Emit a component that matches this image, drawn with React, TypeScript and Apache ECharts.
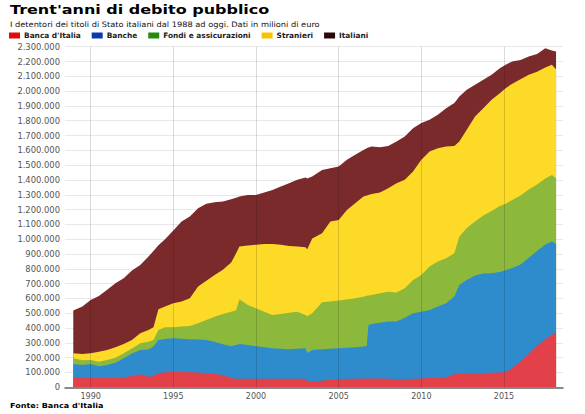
import React, { useEffect, useRef } from "react";
import * as echarts from "echarts";

const years = [1988.95, 1989.5, 1990, 1990.5, 1991, 1991.5, 1992, 1992.5, 1993, 1993.5, 1993.8, 1994.1, 1994.5, 1995, 1995.5, 1996, 1996.5, 1997, 1997.5, 1998, 1998.5, 1998.8, 1999, 1999.5, 2000, 2000.5, 2001, 2001.5, 2002, 2002.5, 2003, 2003.1, 2003.4, 2004, 2004.5, 2005, 2005.5, 2006, 2006.5, 2006.7, 2006.8, 2007, 2007.5, 2008, 2008.5, 2009, 2009.5, 2010, 2010.5, 2011, 2011.5, 2012, 2012.3, 2012.75, 2013.25, 2013.75, 2014.25, 2014.75, 2015.1, 2015.5, 2016, 2016.5, 2017, 2017.5, 2017.9, 2018.15];

// holdings, in thousands of millions of euro (x1000 = millions)
const bancaItalia = [68, 66, 65, 62, 63, 65, 68, 76, 88, 72, 78, 95, 101, 103, 103, 102, 100, 96, 90, 83, 62, 58, 57, 57, 57, 57, 58, 58, 58, 58, 57, 40, 40, 45, 52, 55, 57, 58, 60, 60, 60, 60, 60, 58, 56, 55, 57, 60, 62, 64, 68, 88, 92, 95, 96, 97, 98, 100, 102, 130, 175, 225, 280, 325, 355, 369];
const banche = [90, 85, 93, 80, 88, 100, 128, 152, 164, 183, 197, 225, 226, 228, 225, 222, 222, 224, 218, 207, 216, 227, 236, 229, 221, 213, 205, 202, 199, 202, 206, 192, 212, 212, 208, 208, 210, 212, 216, 219, 361, 368, 376, 386, 388, 415, 443, 451, 460, 481, 499, 525, 599, 630, 659, 671, 672, 678, 688, 675, 655, 650, 640, 640, 629, 601];
const fondi = [38, 31, 27, 31, 34, 35, 34, 34, 45, 53, 45, 67, 78, 74, 82, 90, 110, 135, 169, 205, 233, 235, 301, 270, 256, 241, 226, 235, 247, 251, 226, 248, 248, 318, 320, 323, 326, 331, 336, 339, 199, 196, 199, 202, 196, 199, 225, 248, 293, 304, 305, 292, 327, 350, 365, 392, 420, 447, 450, 460, 465, 460, 450, 445, 450, 442];
const stranieri = [34, 43, 45, 67, 67, 70, 63, 58, 68, 79, 85, 140, 140, 162, 169, 187, 248, 265, 282, 298, 331, 385, 356, 401, 428, 457, 479, 467, 451, 439, 457, 452, 505, 465, 539, 544, 605, 642, 676, 677, 678, 682, 680, 698, 738, 732, 732, 777, 777, 766, 754, 725, 642, 665, 709, 725, 751, 761, 780, 785, 785, 775, 760, 750, 744, 736];
const italiani = [288, 320, 360, 377, 406, 433, 443, 468, 461, 496, 515, 433, 455, 491, 540, 552, 529, 519, 491, 461, 428, 375, 338, 342, 337, 347, 365, 394, 423, 451, 471, 478, 418, 428, 361, 361, 338, 327, 315, 320, 322, 320, 306, 286, 282, 292, 293, 248, 214, 225, 259, 289, 304, 269, 214, 191, 169, 169, 158, 150, 131, 124, 120, 130, 97, 120];

const seriesNames = ["Banca d'Italia", "Banche", "Fondi e assicurazioni", "Stranieri", "Italiani"];
const seriesValues = [bancaItalia, banche, fondi, stranieri, italiani];
const areaColors = ["#e2414a", "#2e8ccc", "#8cb83c", "#fdd928", "#7a2a2b"];
const legendColors = ["#e00b0b", "#0a3aa8", "#278a0e", "#f7c200", "#2a0808"];
const xTickYears = [1990, 1995, 2000, 2005, 2010, 2015];

const FONT = "'DejaVu Sans', sans-serif";

function fmt(v: number) {
  return String(Math.round(v)).replace(/\B(?=(\d{3})+(?!\d))/g, ".");
}

export default function App() {
  const ref = useRef<HTMLDivElement>(null);
  useEffect(() => {
    const chart = echarts.init(ref.current!, null, { renderer: "svg" });
    // cumulative tops, so each band is drawn as an area reaching down to zero
    const cumulative = seriesValues.map((_, i) =>
      years.map((_, k) => {
        let s = 0;
        for (let j = 0; j <= i; j++) s += seriesValues[j][k];
        return s * 1000;
      })
    );
    const series: any[] = [];
    for (let i = seriesNames.length - 1; i >= 0; i--) {
      series.push({
        name: seriesNames[i],
        type: "line",
        symbol: "none",
        showSymbol: false,
        z: 2 + (seriesNames.length - i) * 0.01,
        lineStyle: { width: 0 },
        itemStyle: { color: areaColors[i] },
        areaStyle: { color: areaColors[i], opacity: 1, origin: "start" },
        data: years.map((y, k) => [y, cumulative[i][k]]),
      });
    }
    series.push({
      name: "grid",
      type: "line",
      data: [],
      z: 10,
      silent: true,
      markLine: {
        silent: true,
        symbol: ["none", "none"],
        label: { show: false },
        lineStyle: { color: "rgba(0,0,0,0.14)", type: "solid", width: 1 },
        data: xTickYears.map((y) => ({ xAxis: y })),
      },
    });
    chart.setOption({
      animation: false,
      grid: { left: 65, right: 22, top: 46.7, bottom: 26.7, containLabel: false },
      legend: {
        left: 9,
        top: 32,
        padding: 0,
        itemWidth: 11,
        itemHeight: 6,
        itemGap: 11,
        icon: "rect",
        selectedMode: false,
        textStyle: { fontFamily: FONT, fontSize: 7.4, fontWeight: "bold", color: "#222", padding: [0, 0, 0, -1] },
        data: seriesNames.map((n, i) => ({ name: n, itemStyle: { color: legendColors[i] } })),
      },
      graphic: [
        {
          type: "text",
          x: 10,
          y: 3,
          scaleX: 1.23,
          style: {
            text: "Trent'anni di debito pubblico",
            font: "bold 13px 'DejaVu Sans', sans-serif",
            fill: "#000",
            verticalAlign: "top",
          },
        },
        {
          type: "text",
          x: 10,
          y: 21,
          scaleX: 1.1,
          style: {
            text: "I detentori dei titoli di Stato italiani dal 1988 ad oggi. Dati in milioni di euro",
            font: `7.5px ${FONT}`,
            fill: "#111",
            verticalAlign: "top",
          },
        },
        {
          type: "text",
          x: 10,
          y: 402,
          scaleX: 1.15,
          style: {
            text: "{a|Fonte: }{b|Banca d'Italia}",
            verticalAlign: "top",
            rich: {
              a: { fontFamily: FONT, fontSize: 7, fontWeight: "bold", color: "#666" },
              b: { fontFamily: FONT, fontSize: 7, fontWeight: "bold", color: "#1a73c7" },
            },
          },
        },
      ],
      xAxis: {
        type: "value",
        min: 1988.45,
        max: 2018.57,
        splitLine: { show: false },
        axisTick: { show: false },
        axisLine: { show: true, lineStyle: { color: "#666", width: 1.5 } },
        axisLabel: {
          customValues: xTickYears,
          fontFamily: FONT,
          fontSize: 8,
          color: "#555",
          margin: 5,
          formatter: (v: number) => String(Math.round(v)),
        },
      },
      yAxis: {
        type: "value",
        min: 0,
        max: 2300000,
        interval: 100000,
        axisLine: { show: false },
        axisTick: { show: false },
        splitLine: { lineStyle: { color: "#e8e8e8", width: 1 } },
        axisLabel: {
          fontFamily: FONT,
          fontSize: 8.4,
          color: "#555",
          margin: 5,
          formatter: (v: number) => fmt(v),
        },
      },
      series,
    });
    return () => chart.dispose();
  }, []);
  return <div ref={ref} style={{ width: 585, height: 414, position: "absolute", left: 0, top: 0 }} />;
}
